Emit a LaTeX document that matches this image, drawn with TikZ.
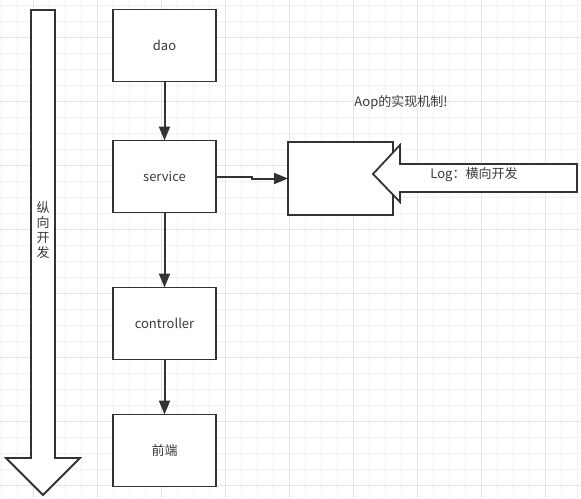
\documentclass[tikz,border=0pt]{standalone}
\usepackage{fontspec}
\setmainfont{Noto Sans CJK SC}
\usetikzlibrary{positioning}
\usetikzlibrary{arrows.meta}
\definecolor{linegray}{HTML}{333333}
\definecolor{textgray}{HTML}{3A3A3A}

\begin{document}
\begin{tikzpicture}[x=1pt,y=1pt,font=\fontsize{13}{15}\selectfont]
		\tikzstyle{layer}=[draw=linegray,line width=1.8pt,fill=white,minimum width=103pt,minimum height=72pt,inner sep=0pt,outer sep=0pt,text=textgray]
		\tikzstyle{callarrow}=[draw=linegray,line width=2pt,-{Triangle[length=14pt,width=11pt]}]
		\tikzstyle{bigarrow}=[draw=linegray,line width=1.8pt,fill=white,line join=miter]
		\tikzstyle{txt}=[text=textgray,inner sep=0pt]
		
		\useasboundingbox (0,0) rectangle (581,-498);
		% background grid
		\foreach \gx in {1.7,17.7,...,581} \draw[black!5,line width=0.5pt] (\gx,0) -- (\gx,-498);
		\foreach \gy in {-5,-21,...,-498} \draw[black!5,line width=0.5pt] (0,\gy) -- (581,\gy);
		\foreach \gx in {33.7,97.7,...,581} \draw[black!10,line width=0.6pt] (\gx,0) -- (\gx,-498);
		\foreach \gy in {-37,-101,...,-498} \draw[black!10,line width=0.6pt] (0,\gy) -- (581,\gy);
		
		% vertical development
		\draw[bigarrow] (31,-10) -- (55,-10) -- (55,-458) -- (80,-458) -- (43,-495) -- (6,-458) -- (31,-458) -- cycle;
		\node[txt,align=center] (vertical) at (43,-230) {纵\\向\\开\\发};
		
		% layers
		\node[layer]       (dao)        at (164.5,-45.5)           {dao};
		\node[layer]       (service)    [below=59pt of dao]        {service};
		\node[layer]       (controller) [below=75pt of service]    {controller};
		\node[layer]       (front)      [below=55pt of controller] {前端};
		
		% aop
		\node[layer,minimum width=105pt,minimum height=73pt] (aopbox) at (340.5,-178.5) {};
		\node[txt]         (aoptitle)   at (401,-102)              {Aop的实现机制!};
		\draw[bigarrow] (577,-164) -- (400,-164) -- (400,-145) -- (373,-174) -- (400,-202) -- (400,-192) -- (577,-192) -- cycle;
		\node[txt]         (logtext)    at (474,-175)              {Log：横向开发};
		
		\draw[callarrow] (dao.south) -- (service.north);
		\draw[callarrow] (service.south) -- (controller.north);
		\draw[callarrow] (controller.south) -- (front.north);
		\draw[callarrow] (service.east) -- ++(36,0) |- (aopbox.west);
		\end{tikzpicture}
\end{document}
